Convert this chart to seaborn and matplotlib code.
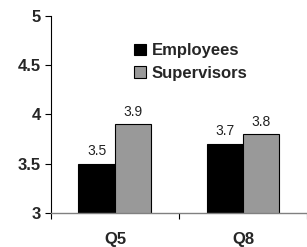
import pandas as pd
import matplotlib
matplotlib.use("Agg")
import matplotlib.pyplot as plt
import seaborn as sns
from matplotlib.patches import Patch

# dados do gráfico
questions = ["Q5", "Q8"]
employees = [3.5, 3.7]
supervisors = [3.9, 3.8]
groups = ["Employees", "Supervisors"]

df = pd.DataFrame({
    "Question": questions * 2,
    "Group": [groups[0]] * 2 + [groups[1]] * 2,
    "Score": employees + supervisors,
})

sns.set_style("white")
plt.rcParams["font.family"] = ["Liberation Sans", "DejaVu Sans"]

fig = plt.figure(figsize=(3.07, 2.47), dpi=100)
ax = fig.add_axes([0.166, 0.138, 0.834, 0.797])

palette = {"Employees": "#000000", "Supervisors": "#999999"}
sns.barplot(data=df, x="Question", y="Score", hue="Group", palette=palette,
            width=0.57, edgecolor="black", linewidth=0.8, ax=ax, legend=False)

# rótulos de valor
for container in ax.containers:
    ax.bar_label(container, fmt="%.1f", padding=4, fontsize=10, color="#222222")

ax.set_ylim(3, 5)
ax.set_xlim(-0.5, 1.47)
ax.set_yticks([3, 3.5, 4, 4.5, 5])
ax.set_yticklabels(["3", "3.5", "4", "4.5", "5"], fontsize=12, fontweight="bold")
ax.set_xticks([0, 1])
ax.set_xticklabels(questions, fontsize=12, fontweight="bold")
ax.tick_params(axis="x", length=0, pad=14)
ax.tick_params(axis="y", length=4, width=0.8, color="black", pad=3, left=True)
ax.set_xticks([-0.5, 0.5, 1.5], minor=True)
ax.tick_params(axis="x", which="minor", length=4, width=0.8, color="black", bottom=True, direction="out")
ax.set_xlabel("")
ax.set_ylabel("")

for s in ["top", "right"]:
    ax.spines[s].set_visible(False)
ax.spines["left"].set_color("black")
ax.spines["left"].set_linewidth(0.8)
ax.spines["bottom"].set_color("#808080")
ax.spines["bottom"].set_linewidth(1.0)

handles = [Patch(facecolor=palette[g], edgecolor="black", linewidth=0.8) for g in groups]
ax.legend(handles, groups, loc="upper left", bbox_to_anchor=(0.30, 0.895),
          frameon=False, prop={"weight": "bold", "size": 12},
          handlelength=0.7, handleheight=0.7, handletextpad=0.35, labelspacing=0.45,
          borderaxespad=0)

fig.savefig("out.png", dpi=100)
